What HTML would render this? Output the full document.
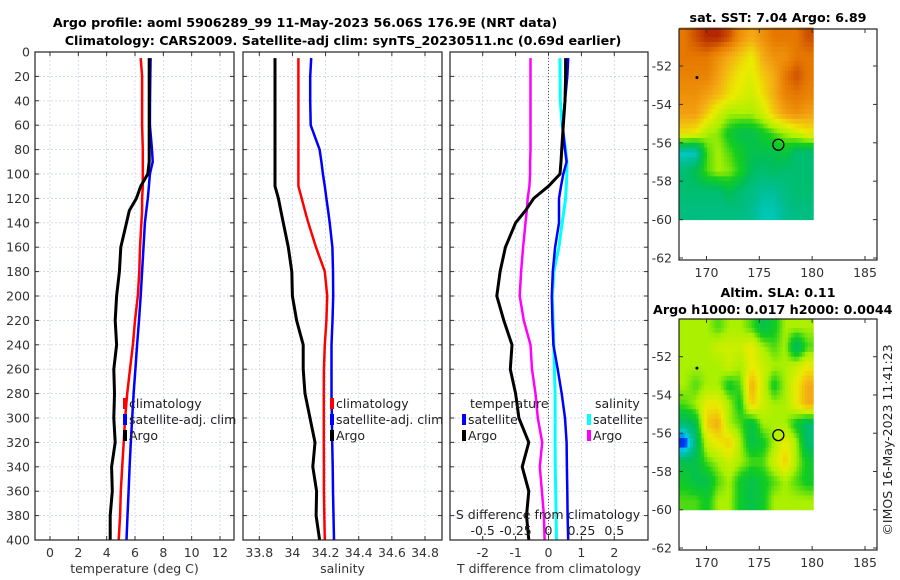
<!DOCTYPE html>
<html><head><meta charset="utf-8"><style>
html,body{margin:0;padding:0;background:#fff;width:900px;height:580px;overflow:hidden}
svg{display:block;font-family:"DejaVu Sans","Liberation Sans",sans-serif}
</style></head><body>
<svg id="chart" width="900" height="580" viewBox="0 0 900 580" xmlns="http://www.w3.org/2000/svg">
<text x="305" y="27" text-anchor="middle" font-size="12.7" font-weight="bold" fill="#000">Argo profile: aoml 5906289_99 11-May-2023 56.06S 176.9E (NRT data)</text>
<text x="343" y="45" text-anchor="middle" font-size="12.7" font-weight="bold" fill="#000">Climatology: CARS2009. Satellite-adj clim: synTS_20230511.nc (0.69d earlier)</text>
<text x="778" y="22" text-anchor="middle" font-size="12.7" font-weight="bold">sat. SST: 7.04 Argo: 6.89</text>
<text x="778" y="297" text-anchor="middle" font-size="12.7" font-weight="bold">Altim. SLA: 0.11</text>
<text x="653" y="314" font-size="12.7" font-weight="bold">Argo h1000: 0.017 h2000: 0.0044</text>
<text transform="translate(892,440) rotate(-90)" text-anchor="middle" font-size="12.5" fill="#222">©IMOS 16-May-2023 11:41:23</text>
<g id="g"></g>
</svg>
<script>
// ---- data ----
const depths=[5,20,40,60,80,90,100,110,120,130,140,160,180,200,220,240,260,280,300,320,340,360,380,400];
const tempArgo=[7.0,7.0,7.0,7.0,7.0,7.0,6.9,6.4,6.1,5.6,5.4,5.0,4.9,4.7,4.6,4.7,4.5,4.55,4.5,4.6,4.35,4.4,4.25,4.25];
const tempClim=[6.4,6.5,6.5,6.5,6.55,6.55,6.55,6.55,6.5,6.5,6.45,6.35,6.3,6.2,6.0,5.85,5.65,5.45,5.3,5.2,5.1,5.0,4.95,4.85];
const tempSat=[7.1,7.08,7.06,7.05,7.2,7.25,7.05,6.98,6.9,6.8,6.7,6.6,6.5,6.4,6.28,6.15,6.03,5.9,5.8,5.7,5.62,5.55,5.47,5.4];
const salArgo=[33.895,33.895,33.895,33.895,33.895,33.895,33.895,33.895,33.915,33.93,33.945,33.975,33.996,34.0,34.025,34.065,34.065,34.076,34.106,34.136,34.123,34.146,34.143,34.164];
const salClim=[34.036,34.036,34.036,34.036,34.036,34.036,34.036,34.036,34.056,34.075,34.096,34.142,34.195,34.21,34.205,34.195,34.19,34.189,34.189,34.189,34.19,34.19,34.192,34.195];
const salSat=[34.113,34.107,34.107,34.11,34.164,34.175,34.184,34.195,34.205,34.215,34.225,34.241,34.245,34.246,34.242,34.236,34.236,34.236,34.238,34.24,34.243,34.245,34.248,34.251];
const tDiffArgo=[0.52,0.52,0.5,0.45,0.4,0.38,0.35,0,-0.45,-0.7,-1.0,-1.31,-1.47,-1.57,-1.36,-1.11,-1.16,-1.0,-0.9,-0.6,-0.8,-0.6,-0.67,-0.6];
const tDiffSat=[0.6,0.57,0.5,0.43,0.5,0.55,0.45,0.38,0.32,0.32,0.32,0.2,0.13,0.1,0.12,0.15,0.28,0.4,0.5,0.55,0.56,0.57,0.58,0.6];
const sDiffSat=[0.087,0.088,0.09,0.104,0.13,0.14,0.14,0.135,0.13,0.117,0.104,0.079,0.04,0.03,0.035,0.04,0.045,0.05,0.05,0.05,0.052,0.055,0.058,0.061];
const sDiffArgo=[-0.137,-0.137,-0.137,-0.137,-0.137,-0.14,-0.14,-0.145,-0.158,-0.165,-0.175,-0.193,-0.208,-0.219,-0.188,-0.137,-0.125,-0.099,-0.081,-0.048,-0.066,-0.05,-0.035,-0.03];
const depthTicks=[0,20,40,60,80,100,120,140,160,180,200,220,240,260,280,300,320,340,360,380,400];
const tempTicks=[0,2,4,6,8,10,12];
const salTicks=[33.8,34,34.2,34.4,34.6,34.8];
const salTickLabels=["33.8","34","34.2","34.4","34.6","34.8"];
const tDiffTicks=[-2,-1,0,1,2];
const sDiffTicks=[-0.5,-0.25,0,0.25,0.5];
const sstGrid=[
[0.8,0.85,0.9,0.9,0.85,0.75,0.7,0.75,0.8,0.8,0.8,0.85],
[0.8,0.8,0.8,0.75,0.7,0.65,0.6,0.7,0.75,0.75,0.8,0.8],
[0.78,0.78,0.78,0.72,0.65,0.6,0.58,0.65,0.7,0.8,0.85,0.8],
[0.75,0.75,0.72,0.68,0.62,0.58,0.55,0.62,0.7,0.78,0.8,0.78],
[0.72,0.72,0.65,0.55,0.5,0.5,0.5,0.55,0.65,0.72,0.75,0.72],
[0.62,0.6,0.5,0.48,0.4,0.35,0.35,0.4,0.45,0.5,0.55,0.6],
[0.2,0.2,0.45,0.5,0.45,0.4,0.35,0.35,0.35,0.38,0.3,0.3],
[0.3,0.35,0.45,0.5,0.48,0.42,0.32,0.3,0.32,0.3,0.3,0.3],
[0.3,0.3,0.3,0.3,0.35,0.3,0.28,0.25,0.25,0.28,0.3,0.3],
[0.28,0.28,0.28,0.28,0.28,0.28,0.26,0.22,0.22,0.26,0.28,0.28]];
const slaGrid=[
[0.5,0.5,0.5,0.45,0.5,0.5,0.45,0.35,0.4,0.5,0.5,0.5],
[0.5,0.5,0.5,0.55,0.55,0.55,0.6,0.5,0.45,0.5,0.3,0.45],
[0.5,0.5,0.5,0.5,0.55,0.5,0.6,0.55,0.5,0.5,0.55,0.6],
[0.5,0.45,0.5,0.5,0.4,0.45,0.7,0.55,0.4,0.5,0.6,0.7],
[0.45,0.5,0.6,0.6,0.5,0.4,0.65,0.55,0.5,0.5,0.6,0.7],
[0.3,0.35,0.65,0.7,0.5,0.45,0.35,0.5,0.5,0.5,0.4,0.3],
[0.05,0.3,0.55,0.6,0.65,0.5,0.35,0.4,0.5,0.6,0.5,0.3],
[0.35,0.35,0.45,0.5,0.55,0.5,0.45,0.45,0.55,0.65,0.5,0.4],
[0.4,0.35,0.35,0.45,0.5,0.4,0.35,0.4,0.45,0.5,0.45,0.4],
[0.45,0.45,0.4,0.5,0.5,0.4,0.35,0.4,0.5,0.5,0.5,0.5]];
const latTicks=[-52,-54,-56,-58,-60,-62];
const lonTicks=[170,175,180,185];
const argoLon=176.8, argoLat=-56.1;
const startLon=169.1, startLat=-52.6;

// ---- drawing ----
const NS='http://www.w3.org/2000/svg';
const G=document.getElementById('g');
function el(t,a,p){const e=document.createElementNS(NS,t);for(const k in a)e.setAttribute(k,a[k]);(p||G).appendChild(e);return e;}
const Y0=52,Y1=540;
const yD=d=>Y0+(Y1-Y0)*d/400;
function lin(d0,d1,r0,r1){return v=>r0+(v-d0)*(r1-r0)/(d1-d0);}
const xT=lin(0,12,50,220);
const xS=lin(33.8,34.8,259.3,425);
const xTd=lin(0,2,548.5,614.3);
const xSd=lin(0,0.5,548.5,614.3);
const panels=[[35,234],[243,442],[450,648]];

function frame(i,xs,ticks,labels,xlab){
  const [a,b]=panels[i];
  const gg=el('g',{});
  
  
  depthTicks.forEach(d=>{const y=yD(d);
    const l=el('line',{x1:a,x2:b,y1:y,y2:y,stroke:'#c4cdea','stroke-width':0.7,'stroke-dasharray':'2,2'},gg);
    
    el('line',{x1:a,x2:a+4,y1:y,y2:y,stroke:'#333'},gg);el('line',{x1:b-4,x2:b,y1:y,y2:y,stroke:'#333'},gg);
    if(i===0){const t=el('text',{x:30,y:y+4.5,'text-anchor':'end','font-size':12.5,fill:'#333'},gg);t.textContent=d;
      }
  });
  ticks.forEach((v,k)=>{const x=xs(v);
    const l=el('line',{x1:x,x2:x,y1:Y0,y2:Y1,stroke:'#c4cdea','stroke-width':0.7,'stroke-dasharray':'2,2'},gg);
    
    el('line',{x1:x,x2:x,y1:Y1-4,y2:Y1,stroke:'#333'},gg);el('line',{x1:x,x2:x,y1:Y0,y2:Y0+4,stroke:'#333'},gg);
    const t=el('text',{x:x,y:557,'text-anchor':'middle','font-size':12.5,fill:'#333'},gg);t.textContent=labels[k];
    
  });
  const t=el('text',{x:(a+b)/2,y:573,'text-anchor':'middle','font-size':12.5,fill:'#333'},gg);t.textContent=xlab;
  
  return gg;
}
function border(i){const [a,b]=panels[i];
  const r=el('rect',{x:a,y:Y0,width:b-a,height:Y1-Y0,fill:'none',stroke:'#222','stroke-width':1.2});
  }
function series(vals,xs,col,w,name){
  const pts=vals.map((v,k)=>xs(v).toFixed(1)+','+yD(depths[k]).toFixed(1)).join(' ');
  const p=el('polyline',{points:pts,fill:'none',stroke:col,'stroke-width':w,'stroke-linejoin':'round'});
  
}
function legend(x,y,col,txt,name){
  const r=el('rect',{x:x-2,y:y-10,width:4,height:11,fill:col});
  
  const t=el('text',{x:x+4,y:y,'font-size':12.5,fill:'#222'});t.textContent=txt;
  
}

frame(0,xT,tempTicks,tempTicks.map(String),'temperature (deg C)');
series(tempClim,xT,'#f00',2.5,'temp-climatology-line');
series(tempSat,xT,'#00f',2.5,'temp-satellite-line');
series(tempArgo,xT,'#000',3,'temp-argo-line');
legend(125,408,'#f00','climatology','legend-entry-climatology');
legend(125,424,'#00f','satellite-adj. clim','legend-entry-satellite');
legend(125,440,'#000','Argo','legend-entry-argo');
border(0);

frame(1,xS,salTicks,salTickLabels,'salinity');
series(salClim,xS,'#f00',2.5,'sal-climatology-line');
series(salSat,xS,'#00f',2.5,'sal-satellite-line');
series(salArgo,xS,'#000',3,'sal-argo-line');
legend(332,408,'#f00','climatology','legend-entry-climatology');
legend(332,424,'#00f','satellite-adj. clim','legend-entry-satellite');
legend(332,440,'#000','Argo','legend-entry-argo');
border(1);

frame(2,xTd,tDiffTicks,tDiffTicks.map(String),'T difference from climatology');
const z=el('line',{x1:xTd(0),x2:xTd(0),y1:Y0,y2:Y1,stroke:'#555','stroke-width':1,'stroke-dasharray':'1,2'});

series(sDiffSat,xSd,'#0ff',3,'sdiff-satellite-line');
series(sDiffArgo,xSd,'#f0f',2.5,'sdiff-argo-line');
series(tDiffSat,xTd,'#00f',2.5,'tdiff-satellite-line');
series(tDiffArgo,xTd,'#000',3,'tdiff-argo-line');
{const t=el('text',{x:470,y:408,'font-size':12.5,fill:'#222'});t.textContent='temperature';
 }
{const t=el('text',{x:595,y:408,'font-size':12.5,fill:'#222'});t.textContent='salinity';
 }
legend(464,424,'#00f','satellite','legend-entry-t-satellite');
legend(464,440,'#000','Argo','legend-entry-t-argo');
legend(589,424,'#0ff','satellite','legend-entry-s-satellite');
legend(589,440,'#f0f','Argo','legend-entry-s-argo');
{const t=el('text',{x:548,y:519,'text-anchor':'middle','font-size':12.5,fill:'#222'});t.textContent='S difference from climatology';
 }
sDiffTicks.forEach(v=>{const t=el('text',{x:xSd(v),y:535,'text-anchor':'middle','font-size':12.5,fill:'#222'});t.textContent=String(v);
 });
border(2);

// ---- maps ----
const cmapStops=[[0,[0,0,140]],[0.1,[0,60,255]],[0.17,[0,210,230]],[0.25,[0,190,150]],[0.33,[0,190,90]],[0.42,[20,205,30]],[0.5,[170,240,0]],[0.6,[235,235,0]],[0.7,[245,170,20]],[0.8,[230,120,0]],[0.9,[180,40,0]],[1,[140,0,0]]];
function cmap(v){for(let i=1;i<cmapStops.length;i++){const [b,cb]=cmapStops[i];if(v<=b){const [a,ca]=cmapStops[i-1];const f=(v-a)/(b-a);
  return 'rgb('+ca.map((c,k)=>Math.round(c+(cb[k]-c)*f)).join(',')+')';}}return 'rgb(140,0,0)';}
const MX0=679,MX1=877;
const xLon=lin(167.4,185,MX0,865);
function sample(grid,fx,fy){ // bilinear sample at fractional cell-centre coords
  const R=grid.length,C=grid[0].length;
  fx=Math.max(0,Math.min(C-1,fx));fy=Math.max(0,Math.min(R-1,fy));
  const x0=Math.floor(fx),y0=Math.floor(fy),x1=Math.min(C-1,x0+1),y1=Math.min(R-1,y0+1);
  const ax=fx-x0,ay=fy-y0;
  return grid[y0][x0]*(1-ax)*(1-ay)+grid[y0][x1]*ax*(1-ay)+grid[y1][x0]*(1-ax)*ay+grid[y1][x1]*ax*ay;
}
function map(top,bot,lat52,lat62,grid,name){
  const yLat=lin(-52,-62,lat52,lat62);
  const gg=el('g',{});
  const rows=grid.length,cols=grid[0].length,S=4;
  const x0=xLon(167.4),x1=xLon(180.1),y0=yLat(-50),y1=yLat(-60);
  const cw=(x1-x0)/(cols*S),ch=(y1-y0)/(rows*S);
  for(let r=0;r<rows*S;r++)for(let c=0;c<cols*S;c++){
    const v=sample(grid,(c+0.5)/S-0.5,(r+0.5)/S-0.5);
    const cell=el('rect',{x:(x0+c*cw).toFixed(2),y:(y0+r*ch).toFixed(2),width:(cw+0.5).toFixed(2),height:(ch+0.5).toFixed(2),fill:cmap(v)},gg);
    
    
  }
  const b=el('rect',{x:MX0,y:top,width:MX1-MX0,height:bot-top,fill:'none',stroke:'#222','stroke-width':1.2},gg);
  
  latTicks.forEach(v=>{const y=yLat(v);
    el('line',{x1:MX0,x2:MX0+4,y1:y,y2:y,stroke:'#333'},gg);el('line',{x1:MX1-4,x2:MX1,y1:y,y2:y,stroke:'#333'},gg);
    const t=el('text',{x:672,y:y+4.5,'text-anchor':'end','font-size':12.5,fill:'#333'},gg);t.textContent=v;
    });
  lonTicks.forEach(v=>{const x=xLon(v);
    el('line',{x1:x,x2:x,y1:bot-4,y2:bot,stroke:'#333'},gg);el('line',{x1:x,x2:x,y1:top,y2:top+4,stroke:'#333'},gg);
    const t=el('text',{x:x,y:bot+17,'text-anchor':'middle','font-size':12.5,fill:'#333'},gg);t.textContent=v;
    });
  const c=el('circle',{cx:xLon(argoLon),cy:yLat(argoLat),r:5.5,fill:'none',stroke:'#000','stroke-width':1.3},gg);
  
  const d=el('circle',{cx:xLon(startLon),cy:yLat(startLat),r:1.5,fill:'#000'},gg);
  
}
map(29,260,66,258,sstGrid,'sst-map');
map(319,550,356.7,548,slaGrid,'sla-map');
</script>
</body></html>
